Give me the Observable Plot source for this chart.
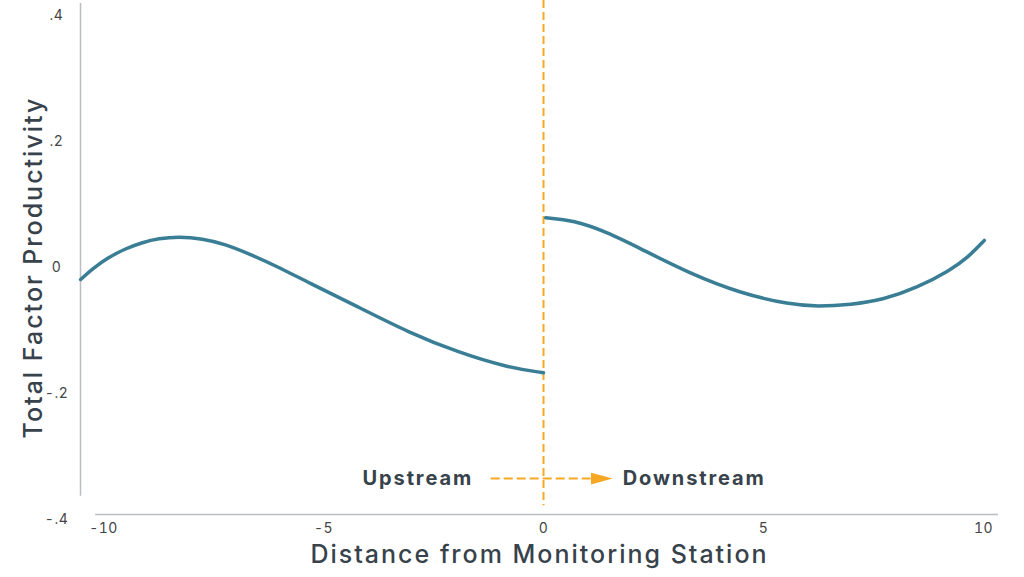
<!DOCTYPE html>
<html>
<head>
<meta charset="utf-8">
<script src="https://cdn.jsdelivr.net/npm/d3@7"></script>
<script src="https://cdn.jsdelivr.net/npm/@observablehq/plot@0.6"></script>
<style>
  html, body { margin: 0; padding: 0; background: #fff; }
  #chart svg { display: block; }
</style>
</head>
<body>
<div id="chart"></div>
<script>
// ---- data ----
const upstreamX = [-10.52, -10.25, -9.89, -9.50, -9.11, -8.75, -8.30, -7.75, -7.23, -6.70, -6.09, -5.34, -4.20, -3.07, -1.93, -0.80, 0];
const upstreamY = [-0.019, -0.002, 0.016, 0.030, 0.040, 0.046, 0.049, 0.046, 0.037, 0.022, 0.003, -0.024, -0.063, -0.103, -0.135, -0.159, -0.167];
const downstreamX = [0.05, 0.68, 1.45, 2.20, 3.34, 4.48, 5.61, 6.23, 6.98, 7.73, 8.50, 9.25, 9.64, 10.02];
const downstreamY = [0.079, 0.075, 0.056, 0.030, -0.010, -0.041, -0.059, -0.062, -0.059, -0.051, -0.032, -0.004, 0.0155, 0.043];
const xTicks = [-10, -5, 0, 5, 10];
const yTicks = [-0.4, -0.2, 0, 0.2, 0.4];
const xDomain = [-10.523, 10.341];
const yDomain = [-0.4, 0.4];
const stationX = 0;
const labels = ["Upstream", "Downstream"];
const labelX = [-1.6, 1.8];
const labelY = -0.335;
const arrowFrom = -1.2, arrowTo = 1.07;
const yAxisTitle = "Total Factor Productivity";
const xAxisTitle = "Distance from Monitoring Station";

const up = upstreamX.map((x, i) => ({x, y: upstreamY[i]}));
const down = downstreamX.map((x, i) => ({x, y: downstreamY[i]}));

const ink = "#37424b";
const teal = "#3a7e96";
const orange = "#f6a724";
const grey = "#b9bdc1";
const font = "Inter, 'Open Sans', sans-serif";

const fmt = d => d === 0 ? "0" : d3.format(".1f")(d).replace("0.", ".").replace("\u2212", "-");

function triangleMarker(color) {
  const m = d3.create("svg:marker")
    .attr("viewBox", "0 -6 22 12")
    .attr("markerUnits", "userSpaceOnUse")
    .attr("markerWidth", 22)
    .attr("markerHeight", 12)
    .attr("refX", 0)
    .attr("refY", 0)
    .attr("orient", "auto");
  m.append("path").attr("d", "M0,-6L22,0L0,6Z").attr("fill", color).attr("stroke", "none");
  return m.node();
}

const chart = Plot.plot({
  width: 1024,
  height: 577,
  marginLeft: 80,
  marginRight: 26,
  marginTop: 15,
  marginBottom: 58,
  style: {fontFamily: font, background: "#fff", overflow: "visible"},
  x: {domain: xDomain, ticks: xTicks, tickFormat: d => String(d)},
  y: {domain: yDomain, ticks: yTicks, tickFormat: fmt},
  marks: [
    // axis lines
    Plot.ruleX([xDomain[0]], {y1: 0.419, y2: -0.363, stroke: grey, strokeWidth: 1.5}),
    Plot.ruleY([yDomain[0]], {x1: -10.18, x2: xDomain[1], stroke: grey, strokeWidth: 1.5, dy: -5}),
    Plot.axisX({ticks: xTicks, tickFormat: d => String(d), tickSize: 0, tickPadding: 4, fontSize: 14, fill: "#444", label: null}),
    Plot.axisY({ticks: yTicks, tickFormat: fmt, tickSize: 0, tickPadding: 24, textAnchor: "middle", fontSize: 14, fill: "#444", label: null}),
    // station line
    Plot.ruleX([stationX], {y1: 0.424, y2: -0.378, stroke: orange, strokeWidth: 2, strokeDasharray: "8,4"}),
    // curves
    Plot.line(up, {x: "x", y: "y", stroke: teal, strokeWidth: 3.5, curve: "basis"}),
    Plot.line(down, {x: "x", y: "y", stroke: teal, strokeWidth: 3.5, curve: "basis"}),
    // direction arrow
    Plot.link([{}], {x1: arrowFrom, x2: arrowTo, y1: labelY, y2: labelY, stroke: orange, strokeWidth: 2, strokeDasharray: "9,4", markerEnd: triangleMarker}),
    Plot.text([labels[0]], {x: labelX[0], y: labelY, text: d => d, textAnchor: "end", fontSize: 20, fontWeight: "bold", fill: ink}),
    Plot.text([labels[1]], {x: labelX[1], y: labelY, text: d => d, textAnchor: "start", fontSize: 20, fontWeight: "bold", fill: ink}),
    // titles
    Plot.text([yAxisTitle], {frameAnchor: "left", textAnchor: "middle", rotate: -90, dx: -47, text: d => d, fontSize: 25, fill: ink, fontWeight: 500}),
    Plot.text([xAxisTitle], {frameAnchor: "bottom", dy: 43, text: d => d, fontSize: 25, fill: ink, fontWeight: 500})
  ]
});

// letter spacing to mimic the wide geometric typeface
d3.select(chart).selectAll("text").each(function() {
  const t = this.textContent;
  if (t === xAxisTitle || t === yAxisTitle) this.setAttribute("letter-spacing", "2");
  else if (labels.includes(t)) this.setAttribute("letter-spacing", "1.9");
  else this.setAttribute("letter-spacing", "0.5");
});
document.getElementById("chart").appendChild(chart);
</script>
</body>
</html>
